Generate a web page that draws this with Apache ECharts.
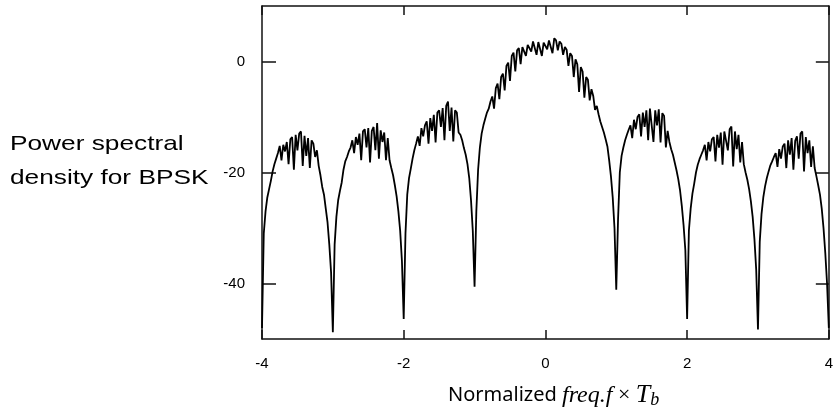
<!DOCTYPE html>
<html>
<head>
<meta charset="utf-8">
<script src="https://cdn.jsdelivr.net/npm/echarts@6/dist/echarts.min.js"></script>
<style>
    html, body { margin: 0; padding: 0; background: #fff; }
    #chart { width: 836px; height: 412px; }
</style>
</head>
<body>
<div id="chart"></div>
<script>
// PSD samples, one array per lobe, step 0.025 in f*Tb
var freqStep = 0.025;
var lobeStarts = [-4, -3, -2, -1, 0, 1, 2, 3];

var lobeM4 = [-48, -31, -27, -24.5, -23, -21.5, -19.8, -18.5, -17.5, -16.5,
    -15.2, -17.8, -15.0, -16.2, -14.5, -18.5, -14.0, -13.6, -19.5, -13.2,
    -16.0, -13.0, -12.6, -18.8, -13.4, -17.0, -13.8, -19.2, -14.2, -14.8,
    -17.2, -16.0, -18.8, -20.5, -22.6, -24, -26.5, -29, -33, -38];
var lobeM3 = [-48.8, -33, -28, -25, -23.3, -21.8, -19.5, -18, -17.2, -16.2,
    -15.5, -14.2, -16.5, -13.6, -15.0, -13.0, -17.8, -12.6, -12.2, -15.5,
    -12.0, -18.2, -12.5, -11.8, -16.0, -11.1, -17.5, -12.4, -14.5, -12.8,
    -17.8, -13.8, -17.8, -19.2, -20.5, -22.3, -24.3, -27, -30.5, -36];
var lobeM2 = [-46.4, -31, -24, -21, -19.3, -17.5, -16, -14.8, -13.5, -15.2,
    -12.0, -13.5, -11.5, -10.8, -14.8, -10.2, -12.5, -9.6, -14.6, -9.2,
    -8.8, -11.8, -8.4, -14.2, -8.0, -7.2, -12.5, -8.3, -14.4, -8.8,
    -9.2, -12.8, -13.2, -14.2, -15.6, -16.8, -18.5, -21, -25, -30.5];
var lobeM1 = [-40.6, -27, -19.5, -15.5, -13, -11.5, -10.3, -9.2, -8.5, -7.2,
    -6.3, -8.5, -4.8, -4.0, -6.8, -2.8, -2.2, -5.2, -0.8, -0.2,
    -3.5, 1.0, 1.6, -1.8, 2.0, 2.4, -0.5, 2.6, 2.8, 1.0,
    3.0, 3.3, 1.8, 3.6, 3.4, 1.2, 3.5, 3.2, 1.0, 3.4];
var lobeP0 = [3.6, 2.2, 3.8, 3.5, 1.5, 4.2, 3.8, 2.0, 3.6, 3.2,
    1.2, 2.6, 2.1, -0.8, 1.5, 1.0, -2.8, 0.4, -0.5, -5.5,
    -1.0, -1.8, -6.5, -2.8, -3.3, -7.0, -5.0, -6.2, -8.7, -8.0,
    -9.5, -10.8, -11.8, -12.8, -14.0, -15.3, -17.8, -20.7, -24.5, -30];
var lobeP1 = [-41.1, -28.5, -20, -17, -15.5, -14.2, -13.2, -12.3, -11.5, -13.8,
    -10.5, -12.2, -10.0, -9.5, -13.5, -9.2, -11.8, -8.8, -14.2, -8.5,
    -8.3, -14.5, -8.8, -11.5, -8.6, -14.6, -9.3, -9.8, -15.5, -12.5,
    -14.5, -15.8, -16.8, -18.2, -19.6, -21.2, -23.2, -26, -29.5, -34];
var lobeP2 = [-46.4, -30.5, -26.5, -23.8, -22, -20, -18.6, -17.6, -16.8, -16.0,
    -15.0, -17.8, -14.5, -16.2, -14.0, -13.6, -18.0, -13.2, -15.5, -12.8,
    -18.6, -12.6, -12.4, -16.0, -12.2, -11.7, -18.9, -12.6, -15.8, -13.2,
    -18.2, -14.5, -18.5, -20, -21.3, -23, -25.2, -28, -32, -37.5];
var lobeP3 = [-48.3, -32.5, -27.5, -24.5, -22.5, -21, -19.8, -18.7, -18.0, -17.2,
    -16.5, -19.0, -15.8, -17.5, -15.3, -14.8, -19.2, -14.2, -16.8, -13.8,
    -19.5, -14.3, -13.5, -17.5, -13.0, -12.6, -19.8, -13.6, -16.5, -14.2,
    -19.0, -15.3, -19.2, -20.7, -22.3, -24, -26.5, -30, -34.5, -40];
var lastValue = -48;   // f = 4

var yTicks = [-40, -20, 0];

var lobes = [lobeM4, lobeM3, lobeM2, lobeM1, lobeP0, lobeP1, lobeP2, lobeP3];
var psdData = [];
lobes.forEach(function (vals, k) {
    vals.forEach(function (v, i) {
        psdData.push([lobeStarts[k] + i * freqStep, v]);
    });
});
psdData.push([4, lastValue]);

var axisColor = '#111';
var labelFont = {color: '#000', fontSize: 15, fontFamily: 'Liberation Sans, Arial, sans-serif'};

var chart = echarts.init(document.getElementById('chart'));

var option = {
    animation: false,
    grid: {left: 262, right: 1, top: 6, bottom: 73},
    xAxis: [{
        type: 'value', min: -4, max: 4, interval: 2,
        splitLine: {show: false},
        axisLine: {onZero: false, lineStyle: {color: axisColor, width: 1.5}},
        axisTick: {inside: true, length: 9, lineStyle: {color: axisColor, width: 1.5}},
        axisLabel: Object.assign({margin: 17}, labelFont)
    }, {
        type: 'value', position: 'top', min: -4, max: 4, interval: 2,
        splitLine: {show: false},
        axisLine: {onZero: false, lineStyle: {color: axisColor, width: 1.5}},
        axisTick: {inside: true, length: 9, lineStyle: {color: axisColor, width: 1.5}},
        axisLabel: {show: false}
    }],
    yAxis: [{
        type: 'value', min: -50, max: 10,
        splitLine: {show: false},
        axisLine: {show: true, onZero: false, lineStyle: {color: axisColor, width: 1.5}},
        axisTick: {inside: true, length: 14, customValues: yTicks, lineStyle: {color: axisColor, width: 1.5}},
        axisLabel: Object.assign({margin: 17, customValues: yTicks}, labelFont)
    }, {
        type: 'value', position: 'right', min: -50, max: 10,
        splitLine: {show: false},
        axisLine: {show: true, onZero: false, lineStyle: {color: axisColor, width: 1.5}},
        axisTick: {inside: true, length: 13, customValues: yTicks, lineStyle: {color: axisColor, width: 1.5}},
        axisLabel: {show: false}
    }],
    graphic: [{
        type: 'text', x: 10, y: 127, scaleX: 1.25,
        style: {
            text: 'Power spectral\ndensity for BPSK',
            font: '21px "Liberation Sans", Arial, sans-serif',
            lineHeight: 34, fill: '#000', verticalAlign: 'top'
        }
    }, {
        type: 'text', x: 448, y: 382,
        style: {
            text: '{n|Normalized }{i|freq.f}{m| × }{t|T}{s|b}',
            verticalAlign: 'top', fill: '#000',
            rich: {
                n: {fontFamily: 'Noto Sans', fontSize: 20, fill: '#000'},
                i: {fontFamily: 'Liberation Serif', fontStyle: 'italic', fontSize: 24, fill: '#000'},
                m: {fontFamily: 'Liberation Serif', fontSize: 22, fill: '#000'},
                t: {fontFamily: 'Liberation Serif', fontStyle: 'italic', fontSize: 26, fill: '#000'},
                s: {fontFamily: 'Liberation Serif', fontStyle: 'italic', fontSize: 18, fill: '#000', verticalAlign: 'bottom', padding: [9, 0, 0, 0]}
            }
        }
    }],
    series: [{
        type: 'line',
        xAxisIndex: 0, yAxisIndex: 0,
        data: psdData,
        showSymbol: false,
        lineStyle: {color: '#000', width: 1.8},
        silent: true
    }]
};

chart.setOption(option);
</script>
</body>
</html>
